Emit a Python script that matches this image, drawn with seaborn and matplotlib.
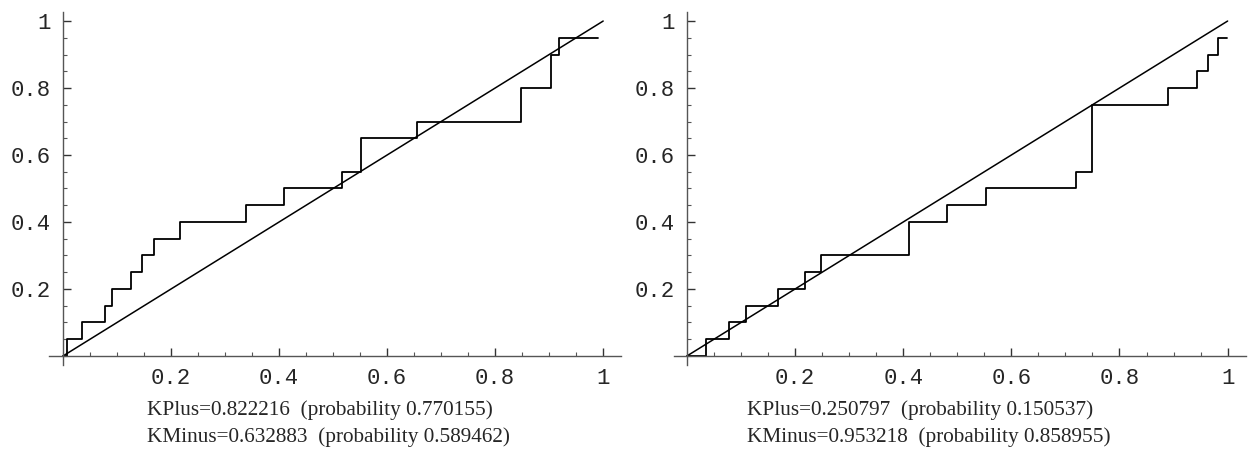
import matplotlib
matplotlib.use("Agg")
import matplotlib.pyplot as plt
from matplotlib.ticker import FixedLocator, MultipleLocator
import seaborn as sns
import pandas as pd

# ---- data ----
left_x = [0, 0.007, 0.035, 0.077, 0.091, 0.125, 0.146, 0.168, 0.217, 0.339,
          0.409, 0.516, 0.552, 0.656, 0.848, 0.904, 0.918, 0.991]
left_y = [0, 0.05, 0.10, 0.15, 0.20, 0.25, 0.30, 0.35, 0.40, 0.45,
          0.50, 0.55, 0.65, 0.70, 0.80, 0.90, 0.95, 0.95]

right_x = [0, 0.036, 0.078, 0.109, 0.169, 0.219, 0.248, 0.410, 0.481, 0.553,
           0.720, 0.750, 0.889, 0.944, 0.964, 0.983, 0.999]
right_y = [0, 0.05, 0.10, 0.15, 0.20, 0.25, 0.30, 0.40, 0.45, 0.50,
           0.55, 0.75, 0.80, 0.85, 0.90, 0.95, 0.95]

diag_x = [0, 1]
diag_y = [0, 1]

tick_vals = [0.2, 0.4, 0.6, 0.8, 1.0]
tick_labels = ["0.2", "0.4", "0.6", "0.8", "1"]

left_caption = ["KPlus=0.822216  (probability 0.770155)",
                "KMinus=0.632883  (probability 0.589462)"]
right_caption = ["KPlus=0.250797  (probability 0.150537)",
                 "KMinus=0.953218  (probability 0.858955)"]

sns.set_style("white")
plt.rcParams["font.family"] = ["DejaVu Sans"]

fig = plt.figure(figsize=(12.5, 4.61), dpi=100)
W, H = 1250, 461

def make_axes(x0px):
    left = x0px / W
    width = 572 / W
    bottom = (H - 365) / H
    height = 353 / H
    return fig.add_axes([left, bottom, width, height])

ax1 = make_axes(49)
ax2 = make_axes(674)

panels = [(ax1, left_x, left_y, (-0.026, 1.033), left_caption, 147),
          (ax2, right_x, right_y, (-0.024, 1.034), right_caption, 747)]

for ax, xs, ys, xlim, caption, cap_x in panels:
    df = pd.DataFrame({"x": xs, "y": ys})
    dd = pd.DataFrame({"x": diag_x, "y": diag_y})
    sns.lineplot(data=df, x="x", y="y", ax=ax, color="black", linewidth=1.3,
                 drawstyle="steps-post", estimator=None, sort=False)
    sns.lineplot(data=dd, x="x", y="y", ax=ax, color="black", linewidth=1.1,
                 estimator=None, sort=False)
    ax.set_xlim(*xlim)
    ax.set_ylim(-0.027, 1.027)
    ax.set_xlabel("")
    ax.set_ylabel("")
    for s in ["top", "right"]:
        ax.spines[s].set_visible(False)
    ax.spines["left"].set_position(("data", 0))
    ax.spines["bottom"].set_position(("data", 0))
    for s in ["left", "bottom"]:
        ax.spines[s].set_color("#555555")
        ax.spines[s].set_linewidth(1.0)
    ax.xaxis.set_major_locator(FixedLocator(tick_vals))
    ax.yaxis.set_major_locator(FixedLocator(tick_vals))
    ax.set_xticklabels(tick_labels, fontfamily="Liberation Mono", fontsize=16)
    ax.set_yticklabels(tick_labels, fontfamily="Liberation Mono", fontsize=16)
    ax.xaxis.set_minor_locator(MultipleLocator(0.05))
    ax.yaxis.set_minor_locator(MultipleLocator(0.05))
    ax.tick_params(which="major", direction="in", length=6, width=1.0,
                   color="#333333", pad=9, bottom=True, left=True)
    ax.tick_params(which="minor", direction="in", length=3, width=0.8,
                   color="#555555", bottom=True, left=True)
    ax.patch.set_alpha(0)
    fig.text(cap_x / W, 1 - 410 / H, caption[0], fontfamily="Liberation Serif",
             fontsize=15.3, ha="left", va="center")
    fig.text(cap_x / W, 1 - 437 / H, caption[1], fontfamily="Liberation Serif",
             fontsize=15.3, ha="left", va="center")

fig.savefig("out.png", dpi=100)
